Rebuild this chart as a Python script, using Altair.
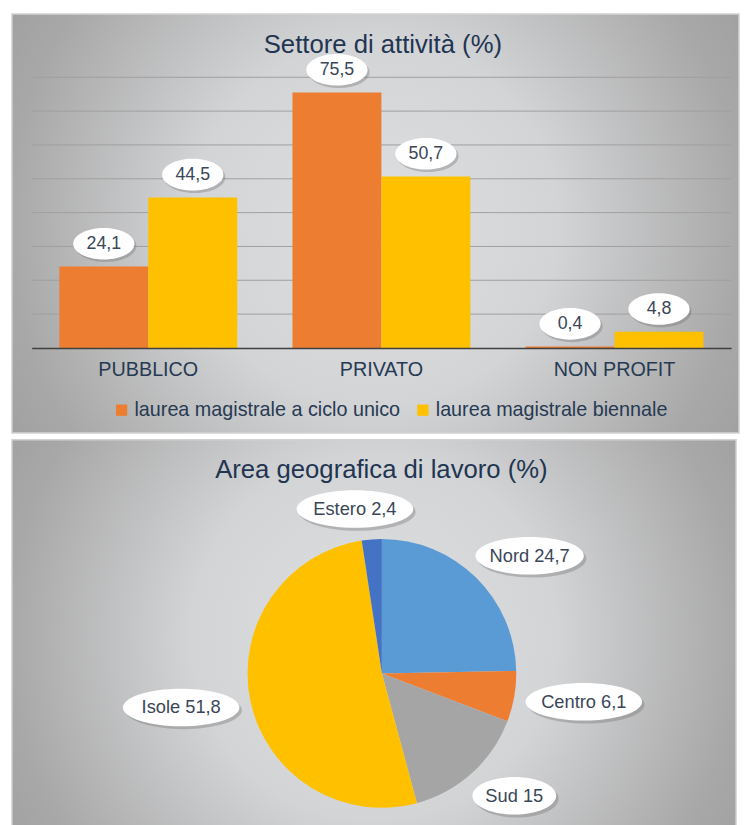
import altair as alt
import pandas as pd

# ---------------- data ----------------
sectors = ["PUBBLICO", "PRIVATO", "NON PROFIT"]
series = ["laurea magistrale a ciclo unico", "laurea magistrale biennale"]
ciclo_unico = [24.1, 75.5, 0.4]
biennale = [44.5, 50.7, 4.8]
grid_values = [10, 20, 30, 40, 50, 60, 70, 80]

areas = ["Nord", "Centro", "Sud", "Isole", "Estero"]
area_values = [24.7, 6.1, 15, 51.8, 2.4]

# ---------------- styles / layout ----------------
series_colors = ["#ED7D31", "#FFC000"]
area_colors = ["#5B9BD5", "#ED7D31", "#A5A5A5", "#FFC000", "#4472C4"]

FONT = "Liberation Sans"
TITLE_COLOR = "#1F3552"
AXIS_COLOR = "#263A53"
LABEL_COLOR = "#3A4658"

W, H = 708, 274
W2, H2 = 708, 390
PIE_CX, PIE_CY, PIE_R = 354.5, 236.5, 136
LABEL_GAP = 12
LABEL_HH = 19


def fmt(v):
    return f"{v:g}".replace(".", ",")


def ellipse_path(cx, cy, rx, ry):
    k = 0.5523
    p = lambda a: f"{a:.2f}"
    return (f"M{p(cx-rx)},{p(cy)} C{p(cx-rx)},{p(cy-k*ry)} {p(cx-k*rx)},{p(cy-ry)} {p(cx)},{p(cy-ry)} "
            f"C{p(cx+k*rx)},{p(cy-ry)} {p(cx+rx)},{p(cy-k*ry)} {p(cx+rx)},{p(cy)} "
            f"C{p(cx+rx)},{p(cy+k*ry)} {p(cx+k*rx)},{p(cy+ry)} {p(cx)},{p(cy+ry)} "
            f"C{p(cx-k*rx)},{p(cy+ry)} {p(cx-rx)},{p(cy+k*ry)} {p(cx-rx)},{p(cy)} Z")


bg_fill = alt.RadialGradient(
    gradient="radial", x1=0.5, y1=0.5, r1=0, x2=0.5, y2=0.5, r2=0.72,
    stops=[alt.GradientStop(offset=0, color="#DEDFE1"),
           alt.GradientStop(offset=0.35, color="#D3D4D6"),
           alt.GradientStop(offset=0.7, color="#A8A8A8"),
           alt.GradientStop(offset=1, color="#939393")])

# ---------------- bar chart ----------------
rows = []
for i, s in enumerate(sectors):
    rows.append({"sector": s, "series": series[0], "value": ciclo_unico[i], "label": fmt(ciclo_unico[i])})
    rows.append({"sector": s, "series": series[1], "value": biennale[i], "label": fmt(biennale[i])})
bars_df = pd.DataFrame(rows)
grid_df = pd.DataFrame({"v": grid_values})
one = pd.DataFrame({"t": ["Settore di attività (%)"]})

yscale = alt.Scale(domain=[0, 80])
xenc = alt.X("sector:N", sort=sectors,
             scale=alt.Scale(paddingInner=0.237, paddingOuter=0.1186),
             axis=alt.Axis(title=None, labelAngle=0, ticks=False, domain=True,
                           domainColor="#404040", domainWidth=1.5, grid=False,
                           labelFontSize=20, labelFont=FONT, labelColor=AXIS_COLOR,
                           labelPadding=12, zindex=1))
xoff = alt.XOffset("series:N", sort=series, scale=alt.Scale(paddingInner=0, paddingOuter=0))
yenc = alt.Y("value:Q", scale=yscale, axis=None)

bg1 = alt.Chart(one).mark_rect(fill=bg_fill, stroke="#D2D2D2", strokeWidth=1.5).encode(
    x=alt.value(-20), x2=alt.value(716), y=alt.value(-64), y2=alt.value(360))

grid = alt.Chart(grid_df).mark_rule(color="#A0A0A0", strokeWidth=1).encode(
    y=alt.Y("v:Q", scale=yscale, axis=None), x=alt.value(0), x2=alt.value(W))

bars = alt.Chart(bars_df).mark_bar().encode(
    x=xenc, xOffset=xoff, y=yenc,
    color=alt.Color("series:N", sort=series,
                    scale=alt.Scale(domain=series, range=series_colors),
                    legend=alt.Legend(orient="none", legendX=81, legendY=327,
                                      direction="horizontal", title=None,
                                      symbolType="square", symbolSize=130,
                                      symbolStrokeWidth=0, labelLimit=0,
                                      labelFontSize=20, labelFont=FONT,
                                      labelColor=AXIS_COLOR, columnPadding=12,
                                      labelOffset=3)))

bar_shape = ellipse_path(0, -23, 31, 16)
bar_shadow = ellipse_path(2, -20.5, 31, 16)
lab_shadow = alt.Chart(bars_df).mark_point(shape=bar_shadow, size=4, filled=True,
                                           color="#6E6E6E", opacity=0.35).encode(
    x=xenc, xOffset=xoff, y=yenc)
lab_ell = alt.Chart(bars_df).mark_point(shape=bar_shape, size=4, filled=True,
                                        color="white", opacity=1).encode(
    x=xenc, xOffset=xoff, y=yenc)
lab_txt = alt.Chart(bars_df).mark_text(dy=-23, font=FONT, fontSize=18,
                                       color=LABEL_COLOR, baseline="middle").encode(
    x=xenc, xOffset=xoff, y=yenc, text="label:N")

title1 = alt.Chart(one).mark_text(font=FONT, fontSize=26, color=TITLE_COLOR,
                                  baseline="alphabetic", align="center").encode(
    x=alt.value(355.5), y=alt.value(-25), text="t:N")

top = alt.layer(bg1, grid, bars, lab_shadow, lab_ell, lab_txt, title1).properties(
    width=W, height=H)

# ---------------- pie chart ----------------
pie_df = pd.DataFrame({
    "area": areas,
    "value": area_values,
    "idx": list(range(len(areas))),
    "label": [f"{a} {fmt(v)}" for a, v in zip(areas, area_values)],
})
pie_df["hw"] = [(8.3 * len(l) + 35) / 2 for l in pie_df["label"]]
pie_df["shape"] = [ellipse_path(0, 0, hw, LABEL_HH) for hw in pie_df["hw"]]
pie_df["shadow"] = [ellipse_path(2.5, 3, hw, LABEL_HH) for hw in pie_df["hw"]]
one2 = pd.DataFrame({"t": ["Area geografica di lavoro (%)"]})

bg2 = alt.Chart(one2).mark_rect(fill=bg_fill, stroke="#D2D2D2", strokeWidth=1.5).encode(
    x=alt.value(-20), x2=alt.value(713), y=alt.value(0), y2=alt.value(400))

arc = alt.Chart(pie_df).mark_arc(radius=PIE_R).encode(
    theta=alt.Theta("value:Q", stack=True),
    order=alt.Order("idx:Q"),
    color=alt.Color("area:N", sort=areas,
                    scale=alt.Scale(domain=areas, range=area_colors), legend=None),
    x=alt.value(PIE_CX), y=alt.value(PIE_CY))

RG = PIE_R + LABEL_GAP
pos = alt.Chart(pie_df).transform_joinaggregate(
    total="sum(value)"
).transform_window(
    cum="sum(value)", sort=[alt.SortField("idx")], frame=[None, 0]
).transform_calculate(
    ang="(datum.cum - datum.value/2) / datum.total * 2 * PI",
).transform_calculate(
    sx="sin(datum.ang)", cy="cos(datum.ang)",
).transform_calculate(
    px=f"{PIE_CX} + {RG} * datum.sx + datum.hw * (datum.sx < 0 ? -1 : 1) * sqrt(abs(datum.sx))",
    py=f"{PIE_CY} - {RG} * datum.cy - {LABEL_HH} * datum.cy",
)
px = alt.X("px:Q", scale=None, axis=None)
py = alt.Y("py:Q", scale=None, axis=None)

pie_shadow = pos.mark_point(size=4, filled=True, color="#6E6E6E", opacity=0.35).encode(
    x=px, y=py, shape=alt.Shape("shadow:N", scale=None, legend=None))
pie_ell = pos.mark_point(size=4, filled=True, color="white", opacity=1).encode(
    x=px, y=py, shape=alt.Shape("shape:N", scale=None, legend=None))
pie_txt = pos.mark_text(font=FONT, fontSize=18.5, color=LABEL_COLOR,
                        baseline="middle", align="center").encode(
    x=px, y=py, text="label:N")

title2 = alt.Chart(one2).mark_text(font=FONT, fontSize=26, color=TITLE_COLOR,
                                   baseline="alphabetic", align="center").encode(
    x=alt.value(354), y=alt.value(39), text="t:N")

bottom = alt.layer(bg2, arc, pie_shadow, pie_ell, pie_txt, title2).properties(
    width=W2, height=H2).resolve_scale(color="independent")

chart = alt.vconcat(top, bottom, spacing=5).resolve_scale(color="independent").properties(
    padding={"left": 3, "top": 0, "right": 0, "bottom": 0},
    background="white",
).configure_view(stroke=None)

chart.save("out.html", embed_options={"renderer": "svg", "actions": False})
